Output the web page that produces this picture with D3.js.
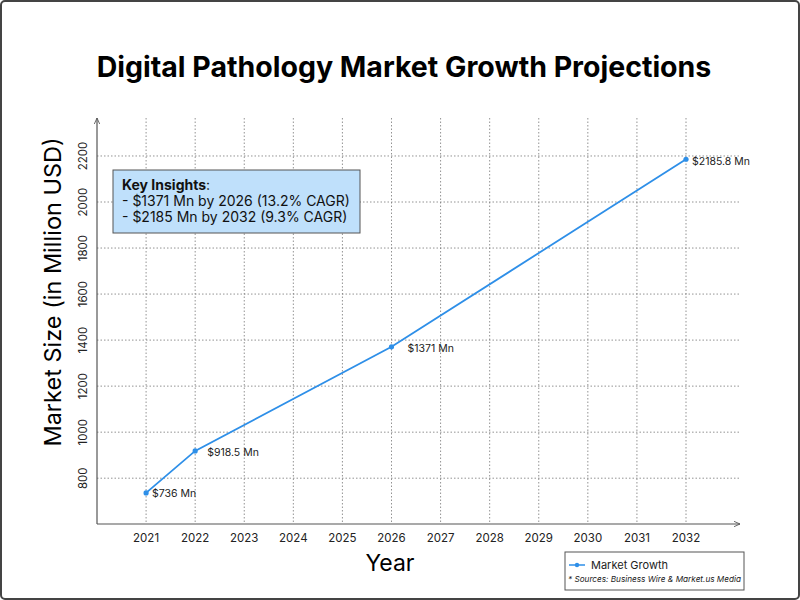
<!DOCTYPE html>
<html>
<head>
<meta charset="utf-8">
<script src="https://cdn.jsdelivr.net/npm/d3@7"></script>
<style>
  body { margin: 0; background: #fff; }
  text { font-family: Inter, "Noto Sans", sans-serif; }
</style>
</head>
<body>
<svg id="chart" width="800" height="600"></svg>
<script>
// data
var years = [2021, 2022, 2026, 2032];
var values = [736, 918.5, 1371, 2185.8];
var pointLabels = ["$736 Mn", "$918.5 Mn", "$1371 Mn", "$2185.8 Mn"];
var xTicks = d3.range(2021, 2033);
var yTicks = [800, 1000, 1200, 1400, 1600, 1800, 2000, 2200];
var insights = ["- $1371 Mn by 2026 (13.2% CAGR)", "- $2185 Mn by 2032 (9.3% CAGR)"];

var svg = d3.select("#chart");
// plot area (note: "top" is reserved on window, so use plot* names)
var plotL = 97, plotR = 740, plotT = 118, plotB = 524;

var x = d3.scaleLinear().domain([2020, 2033.1]).range([plotL, plotR]);
var y = d3.scaleLinear().domain([601, 2365]).range([plotB, plotT]);

var lineColor = "#2e8fe8";

// outer frame
svg.append("rect")
  .attr("x", 1).attr("y", 1).attr("width", 798).attr("height", 598)
  .attr("rx", 4)
  .attr("fill", "none").attr("stroke", "#444").attr("stroke-width", 2);

// title
svg.append("text")
  .attr("x", 404).attr("y", 77)
  .attr("text-anchor", "middle")
  .style("font-size", "28.5px").style("font-weight", "700")
  .text("Digital Pathology Market Growth Projections");

// grid
var g = svg.append("g");
g.selectAll(".vgrid").data(xTicks).enter().append("line")
  .attr("x1", d => x(d)).attr("x2", d => x(d))
  .attr("y1", plotT).attr("y2", plotB)
  .attr("stroke", "#777").attr("stroke-width", 0.8)
  .attr("stroke-dasharray", "1.5,2");
g.selectAll(".hgrid").data(yTicks).enter().append("line")
  .attr("x1", plotL).attr("x2", plotR)
  .attr("y1", d => y(d)).attr("y2", d => y(d))
  .attr("stroke", "#777").attr("stroke-width", 0.8)
  .attr("stroke-dasharray", "1.5,2");

// axes with small arrow heads
svg.append("defs").append("marker")
  .attr("id", "arrow").attr("viewBox", "0 0 10 10")
  .attr("refX", 9).attr("refY", 5)
  .attr("markerWidth", 6).attr("markerHeight", 6)
  .attr("orient", "auto-start-reverse")
  .append("path").attr("d", "M0,1 L9,5 L0,9").attr("fill", "none")
  .attr("stroke", "#555").attr("stroke-width", 1.2);

svg.append("line")
  .attr("x1", plotL).attr("x2", plotR).attr("y1", plotB).attr("y2", plotB)
  .attr("stroke", "#555").attr("stroke-width", 1.2)
  .attr("marker-end", "url(#arrow)");
svg.append("line")
  .attr("x1", plotL).attr("x2", plotL).attr("y1", plotB).attr("y2", plotT)
  .attr("stroke", "#555").attr("stroke-width", 1.2)
  .attr("marker-end", "url(#arrow)");

// tick labels
svg.selectAll(".xt").data(xTicks).enter().append("text")
  .attr("x", d => x(d)).attr("y", plotB + 18)
  .attr("text-anchor", "middle")
  .style("font-size", "11.5px").attr("fill", "#222")
  .text(d => d);
svg.selectAll(".yt").data(yTicks).enter().append("text")
  .attr("transform", d => "translate(" + (plotL - 10) + "," + y(d) + ") rotate(-90)")
  .attr("text-anchor", "middle")
  .style("font-size", "11.5px").attr("fill", "#222")
  .text(d => d);

// axis titles
svg.append("text")
  .attr("x", 390).attr("y", 571)
  .attr("text-anchor", "middle")
  .style("font-size", "23px")
  .text("Year");
svg.append("text")
  .attr("transform", "translate(61,292) rotate(-90)")
  .attr("text-anchor", "middle")
  .style("font-size", "23.5px")
  .text("Market Size (in Million USD)");

// line
var pts = years.map((d, i) => [d, values[i]]);
svg.append("path")
  .datum(pts)
  .attr("fill", "none").attr("stroke", lineColor).attr("stroke-width", 1.8)
  .attr("d", d3.line().x(d => x(d[0])).y(d => y(d[1])));
svg.selectAll(".pt").data(pts).enter().append("circle")
  .attr("cx", d => x(d[0])).attr("cy", d => y(d[1]))
  .attr("r", 2.6).attr("fill", lineColor);

// point labels
var labelDx = [6, 12, 16, 6];
var labelDy = [4, 5, 5, 6];
svg.selectAll(".pl").data(pts).enter().append("text")
  .attr("x", (d, i) => x(d[0]) + labelDx[i])
  .attr("y", (d, i) => y(d[1]) + labelDy[i])
  .style("font-size", "10.5px").attr("fill", "#222")
  .text((d, i) => pointLabels[i]);

// insights box
var box = svg.append("g");
box.append("rect")
  .attr("x", 113).attr("y", 170).attr("width", 247).attr("height", 63)
  .attr("fill", "#bfe0fb").attr("stroke", "#555").attr("stroke-width", 1);
var t = box.append("text").attr("x", 122).attr("y", 190)
  .style("font-size", "14px").attr("fill", "#111");
t.append("tspan").style("font-weight", "700").text("Key Insights");
t.append("tspan").text(":");
box.selectAll(".ins").data(insights).enter().append("text")
  .attr("x", 122).attr("y", (d, i) => 206 + i * 16)
  .style("font-size", "14px").attr("fill", "#111")
  .text(d => d);

// legend
var lg = svg.append("g");
lg.append("rect")
  .attr("x", 565).attr("y", 552).attr("width", 179).attr("height", 38)
  .attr("fill", "#fff").attr("stroke", "#555").attr("stroke-width", 1);
lg.append("line")
  .attr("x1", 569).attr("x2", 585).attr("y1", 565).attr("y2", 565)
  .attr("stroke", lineColor).attr("stroke-width", 1.5);
lg.append("circle").attr("cx", 577).attr("cy", 565).attr("r", 2.2).attr("fill", lineColor);
lg.append("text").attr("x", 591).attr("y", 569)
  .style("font-size", "11px").attr("fill", "#222")
  .text("Market Growth");
lg.append("text").attr("x", 568).attr("y", 582)
  .style("font-size", "8.2px").style("font-style", "italic").attr("fill", "#222")
  .text("* Sources: Business Wire & Market.us Media");
</script>
</body>
</html>
